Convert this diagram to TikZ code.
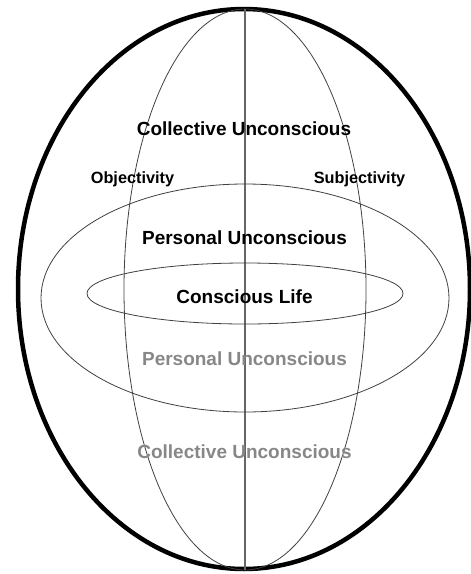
\documentclass[tikz,border=0pt]{standalone}
\usepackage{fontspec}
\setmainfont{Liberation Sans}
\begin{document}
\begin{tikzpicture}[x=1pt,y=-1pt,
  thinline/.style={draw=black!75,line width=0.8pt},
  label/.style={font=\fontsize{19}{22}\selectfont\bfseries,anchor=base,inner sep=0pt},
  smalllabel/.style={font=\fontsize{16.3}{19}\selectfont\bfseries,anchor=base,inner sep=0pt},
  faded/.style={text=black!47}]
\useasboundingbox (0,0) rectangle (471,574);
% outer ellipse
\draw[line width=4.5pt] (244,289) ellipse [x radius=226, y radius=280];
% vertical ellipse
\draw[thinline] (245,289.5) ellipse [x radius=121, y radius=280.5];
% vertical axis
\coordinate (top) at (245,9);
\coordinate (bot) at (245,570);
\draw[draw=black!60,line width=1.1pt] (top) -- (bot);
% horizontal ellipses
\draw[thinline] (245,298) ellipse [x radius=204, y radius=114];
\draw[thinline] (245,293.5) ellipse [x radius=158, y radius=30.5];
% labels
\node[label] (cu1) at (244,135) {Collective Unconscious};
\node[smalllabel] (obj) at (132.5,183) {Objectivity};
\node[smalllabel] (subj) at (359.5,183) {Subjectivity};
\node[label] (pu1) at (244.5,244) {Personal Unconscious};
\node[label] (cl) at (244.5,303) {Conscious Life};
\node[label,faded] (pu2) at (244.5,365) {Personal Unconscious};
\node[label,faded] (cu2) at (244.5,458) {Collective Unconscious};
\end{tikzpicture}
\end{document}
